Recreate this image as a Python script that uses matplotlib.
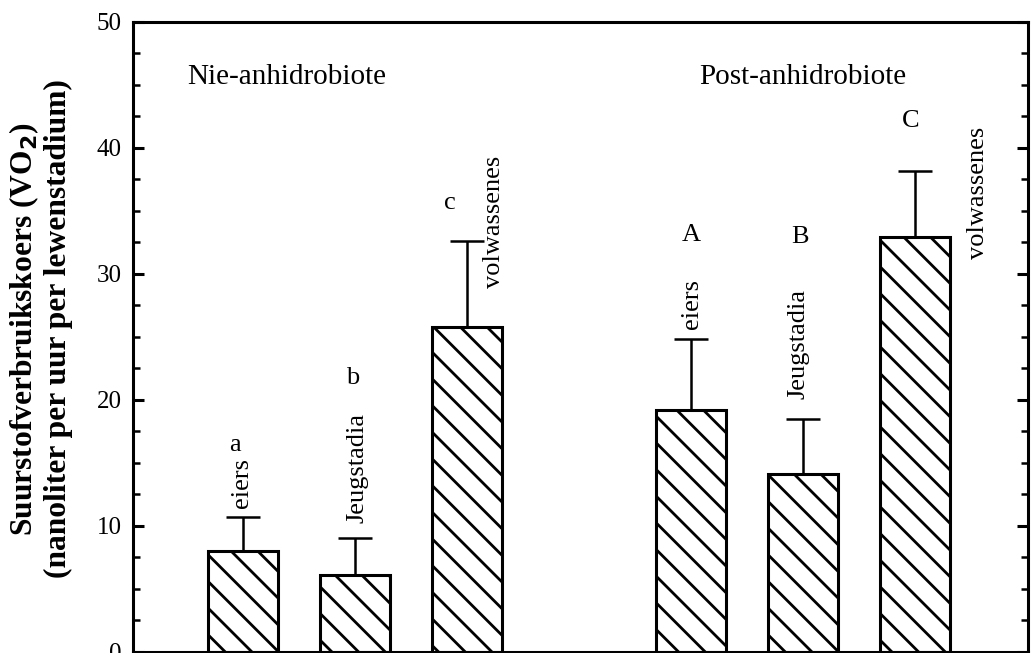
import matplotlib.pyplot as plt

# draw at 160 dpi so the hatch spacing comes out wider, sizes scaled by S
DPI = 160
S = 100 / DPI

plt.rcParams['font.family'] = ['Liberation Serif', 'DejaVu Serif']
plt.rcParams['hatch.linewidth'] = 2.0 * S

# Data
stages = ['eiers', 'Jeugstadia', 'volwassenes', 'eiers', 'Jeugstadia', 'volwassenes']
letters = ['a', 'b', 'c', 'A', 'B', 'C']
positions = [1, 2, 3, 5, 6, 7]
means = [8.0, 6.1, 25.8, 19.2, 14.1, 32.9]
errors = [2.7, 2.9, 6.8, 5.6, 4.4, 5.3]
groups = ['Nie-anhidrobiote', 'Post-anhidrobiote']

fig = plt.figure(figsize=(1032 / DPI, 653 / DPI), dpi=DPI)
ax = fig.add_axes([133 / 1032, 1.5 / 653, (1028 - 133) / 1032, (651.5 - 22) / 653])

ax.bar(positions, means, width=0.625, color='white', edgecolor='black',
       linewidth=2.2 * S, hatch='\\\\', zorder=2)
ax.errorbar(positions, means, yerr=[[0] * 6, errors], fmt='none', ecolor='black',
            elinewidth=1.8 * S, capsize=12 * S, capthick=1.8 * S, zorder=1)

# letters and stage labels
letter_y = [16.4, 21.7, 35.6, 33.1, 32.9, 42.1]
letter_x = [0.93, 1.98, 2.85, 5.0, 5.97, 6.96]
stage_y = [13.4, 14.6, 34.1, 27.6, 24.4, 36.4]
stage_x = [0.99, 2.02, 3.24, 5.01, 5.96, 7.56]
for lt, lx, ly, st, sx, sy in zip(letters, letter_x, letter_y, stages, stage_x, stage_y):
    ax.text(lx, ly, lt, ha='center', va='center', fontsize=19 * S)
    ax.text(sx, sy, st, ha='center', va='center', rotation=90, fontsize=19 * S)

ax.text(1.39, 45.6, groups[0], ha='center', va='center', fontsize=21 * S)
ax.text(6.0, 45.6, groups[1], ha='center', va='center', fontsize=21 * S)

ax.set_xlim(0.02, 8.01)
ax.set_ylim(0, 50)
ax.set_xticks([])
ax.set_yticks([0, 10, 20, 30, 40, 50])
ax.set_yticks([2.5, 5, 7.5, 12.5, 15, 17.5, 22.5, 25, 27.5, 32.5, 35, 37.5,
               42.5, 45, 47.5], minor=True)
ax.tick_params(axis='y', which='major', direction='in', length=8 * S, width=2.2 * S,
               right=True, labelsize=18 * S, pad=8 * S)
ax.tick_params(axis='y', which='minor', direction='in', length=5 * S, width=1.8 * S, right=True)
for s in ax.spines.values():
    s.set_linewidth(2.2 * S)

# y label as figure text so both lines can be placed like the original
fig.text(40 / 1032, 1 - 329 / 653,
         'Suurstofverbruikskoers (VO$_\\mathbf{2}$)\n(nanoliter per uur per lewenstadium)',
         rotation=90, ha='center', va='center', multialignment='center',
         fontsize=22.7 * S, fontweight='bold', linespacing=1.15)

fig.savefig('out.png', dpi=DPI)
